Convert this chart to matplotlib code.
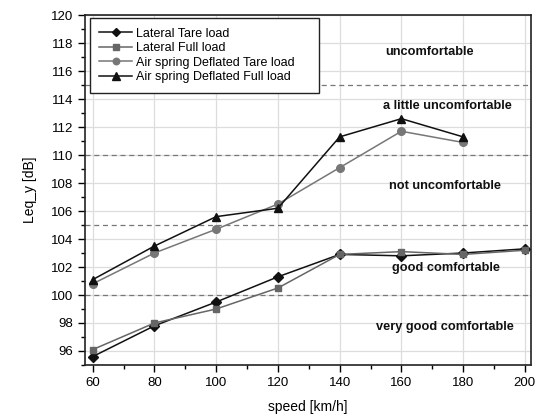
import numpy as np
import matplotlib
matplotlib.use("Agg")
import matplotlib.pyplot as plt
from matplotlib.ticker import MultipleLocator

plt.rcParams['font.family'] = ['Liberation Sans', 'DejaVu Sans']

# data
speed = [60, 80, 100, 120, 140, 160, 180, 200]
speed_air = [60, 80, 100, 120, 140, 160, 180]
lateral_tare = [95.6, 97.8, 99.5, 101.3, 102.9, 102.8, 103.0, 103.3]
lateral_full = [96.1, 98.0, 99.0, 100.5, 102.9, 103.1, 102.9, 103.2]
air_tare = [100.8, 103.0, 104.7, 106.5, 109.1, 111.7, 110.9]
air_full = [101.1, 103.5, 105.6, 106.2, 111.3, 112.6, 111.3]

# comfort limits and zone names
limits = [100, 105, 110, 115]
zone_names = ["uncomfortable", "a little uncomfortable", "not uncomfortable",
              "good comfortable", "very good comfortable"]
zone_pos = [(169, 117.4), (175, 113.5), (174, 107.8), (174.5, 101.9), (174, 97.7)]

fig = plt.figure(figsize=(5.38, 4.2), dpi=100)
ax = fig.add_axes([0.158, 0.131, 0.829, 0.833])

ax.plot(speed, lateral_tare, color='#111111', marker='D', markersize=5, lw=1.1, label='Lateral Tare load')
ax.plot(speed, lateral_full, color='#666666', marker='s', markersize=5, lw=1.1, label='Lateral Full load')
ax.plot(speed_air, air_tare, color='#777777', marker='o', markersize=5.5, lw=1.1, label='Air spring Deflated Tare load')
ax.plot(speed_air, air_full, color='#111111', marker='^', markersize=6, lw=1.1, label='Air spring Deflated Full load')

for lim in limits:
    ax.axhline(lim, color='#777777', ls=(0, (4, 3)), lw=0.9, zorder=1)

for name, (x, y) in zip(zone_names, zone_pos):
    ax.text(x, y, name, ha='center', va='center', fontsize=9.2, fontweight='bold', color='#111111')

ax.set_xlim(57.5, 202)
ax.set_ylim(95, 120)
ax.xaxis.set_major_locator(MultipleLocator(20))
ax.xaxis.set_minor_locator(MultipleLocator(10))
ax.yaxis.set_major_locator(MultipleLocator(2))
ax.yaxis.set_minor_locator(MultipleLocator(1))
ax.tick_params(which='both', direction='out', labelsize=9.5, width=1)
ax.tick_params(which='major', length=5)
ax.tick_params(which='minor', length=3)
ax.grid(True, which='major', color='#dddddd', lw=0.9, zorder=0)
ax.set_axisbelow(True)
for sp in ax.spines.values():
    sp.set_linewidth(1.2)
    sp.set_color('#222222')

ax.set_xlabel("speed [km/h]", fontsize=10, labelpad=8)
ax.set_ylabel("Leq_y [dB]", fontsize=10, labelpad=10)

leg = ax.legend(loc='upper left', fontsize=9, frameon=True, fancybox=False,
                edgecolor='#222222', framealpha=1, borderpad=0.75,
                handlelength=2.6, handletextpad=0.3, labelspacing=0.2,
                markerscale=0.85, mode='expand',
                bbox_to_anchor=(0.011, 0.766, 0.513, 0.225), borderaxespad=0)
leg.get_frame().set_linewidth(1.0)
leg._legend_box.align = 'left'

fig.savefig("out.png", dpi=100)
